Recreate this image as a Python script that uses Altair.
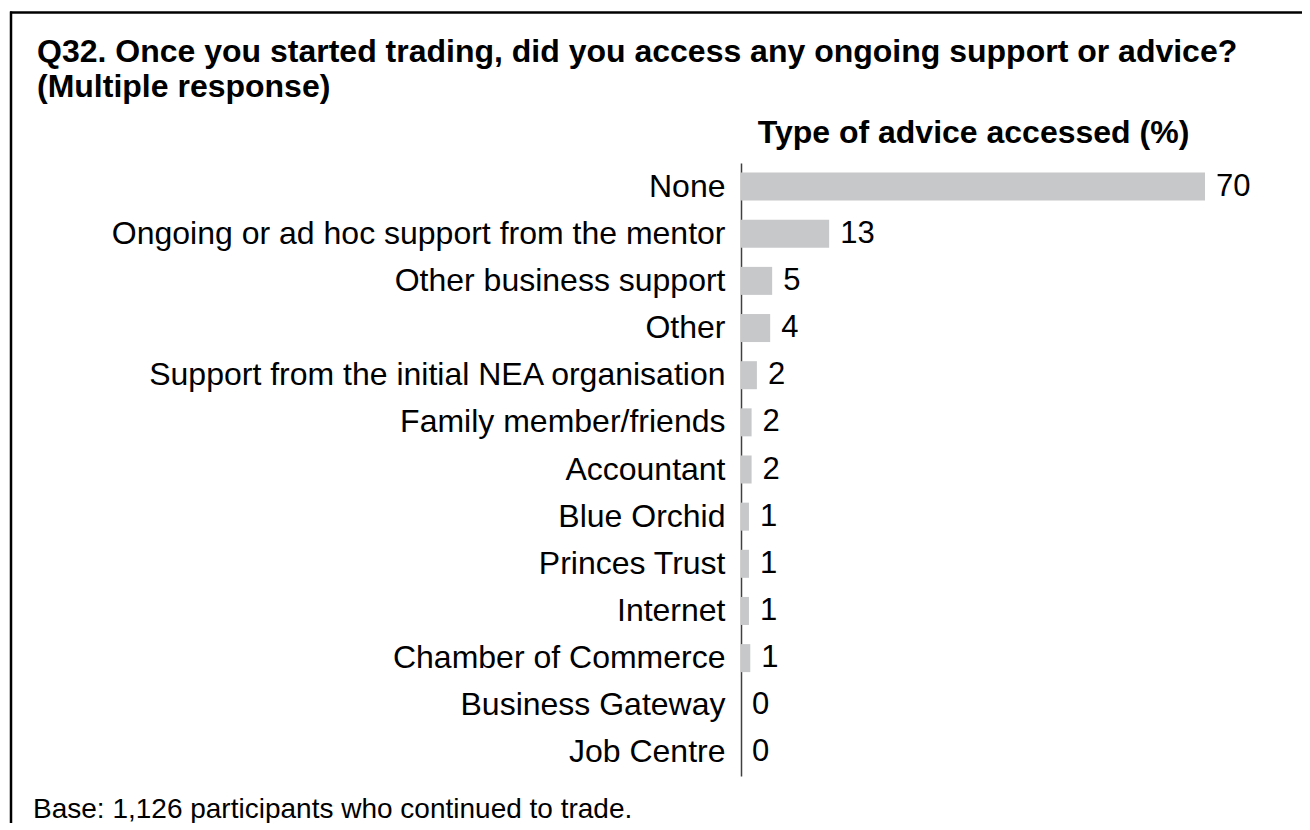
import altair as alt
import pandas as pd

FONT = "Liberation Sans"

categories = [
    "None",
    "Ongoing or ad hoc support from the mentor",
    "Other business support",
    "Other",
    "Support from the initial NEA organisation",
    "Family member/friends",
    "Accountant",
    "Blue Orchid",
    "Princes Trust",
    "Internet",
    "Chamber of Commerce",
    "Business Gateway",
    "Job Centre",
]
values = [70, 13.3, 4.7, 4.4, 2.4, 1.6, 1.6, 1.2, 1.2, 1.2, 1.4, 0, 0]

title_lines = [
    "Q32. Once you started trading, did you access any ongoing support or advice?",
    "(Multiple response)",
]
axis_title = "Type of advice accessed (%)"
footnote = ["Base: 1,126 participants who continued to trade."]

df = pd.DataFrame({"category": categories, "value": values})

y_enc = alt.Y(
    "category:N",
    sort=categories,
    scale=alt.Scale(paddingInner=0.406, paddingOuter=0.203),
    axis=alt.Axis(
        title=None,
        labelFont=FONT,
        labelFontSize=32,
        labelColor="black",
        labelPadding=16,
        labelLimit=1000,
        ticks=False,
        domainColor="#404040",
        domainWidth=1.5,
        grid=False,
    ),
)
x_enc = alt.X(
    "value:Q",
    scale=alt.Scale(domain=[0, 70], nice=False, zero=True),
    axis=alt.Axis(
        orient="top",
        title=axis_title,
        titleFont=FONT,
        titleFontSize=32,
        titleFontWeight="bold",
        titleColor="black",
        titlePadding=14,
        labels=False,
        ticks=False,
        domain=False,
        grid=False,
    ),
)

bars = alt.Chart(df).mark_bar(color="#c7c8ca").encode(y=y_enc, x=x_enc)

labels = alt.Chart(df).mark_text(
    align="left", baseline="middle", dx=11, font=FONT, fontSize=31, color="black"
).encode(
    y=alt.Y("category:N", sort=categories),
    x=alt.X("value:Q"),
    text=alt.Text("value:Q", format=".0f"),
)

one = pd.DataFrame({"k": [0]})
top_border = alt.Chart(one).mark_rule(color="black", strokeWidth=2.5).encode(
    x=alt.value(-731), x2=alt.value(600), y=alt.value(-150.4)
)
left_border = alt.Chart(one).mark_rule(color="black", strokeWidth=2.5).encode(
    x=alt.value(-730), y=alt.value(-151.6), y2=alt.value(700)
)

foot = alt.Chart(pd.DataFrame({"t": footnote})).mark_text(
    align="left", baseline="alphabetic", font=FONT, fontSize=28, color="black"
).encode(x=alt.value(-708), y=alt.value(655), text="t:N")

chart = alt.layer(bars, labels, top_border, left_border, foot).properties(
    width=464,
    height=613,
    padding={"left": 733, "top": 155, "right": 97, "bottom": 47},
    autosize=alt.AutoSizeParams(type="none"),
    title=alt.TitleParams(
        text=title_lines,
        anchor="start",
        frame="group",
        dx=-704,
        dy=104,
        offset=10,
        font=FONT,
        fontSize=32,
        fontWeight="bold",
        lineHeight=35,
        color="black",
    ),
).configure(
    background="white",
    view=alt.ViewConfig(strokeWidth=0, stroke="transparent"),
)

chart.save("out.html", embed_options={"renderer": "svg", "actions": False})
